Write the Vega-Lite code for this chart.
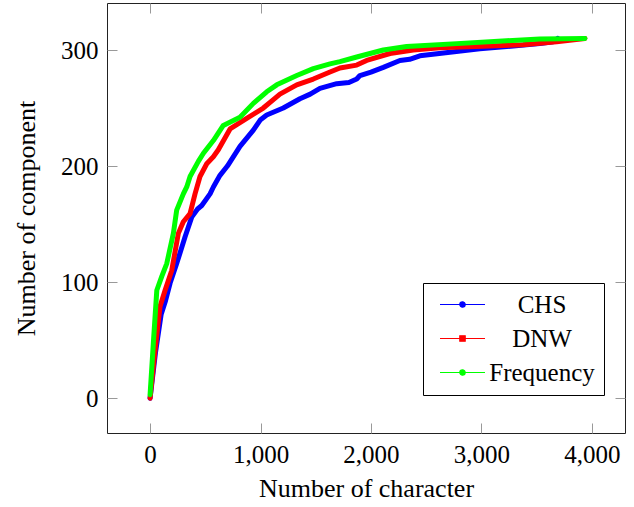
{
  "$schema": "https://vega.github.io/schema/vega-lite/v6.json",
  "width": 518,
  "height": 430,
  "autosize": {"type": "none"},
  "padding": {"left": 107, "top": 3, "right": 9, "bottom": 74},
  "background": "white",
  "config": {
    "view": {"stroke": "#222", "strokeWidth": 1},
    "font": "Liberation Serif, Times New Roman, serif",
    "axis": {
      "domain": false,
      "grid": false,
      "tickColor": "#999",
      "tickSize": -10,
      "tickWidth": 1,
      "labelFont": "Liberation Serif, Times New Roman, serif",
      "labelFontSize": 25,
      "labelColor": "black",
      "labelPadding": 19,
      "labelFlush": false,
      "labelOverlap": false,
      "titleFont": "Liberation Serif, Times New Roman, serif",
      "titleFontSize": 26,
      "titleFontWeight": "normal",
      "titleColor": "black"
    }
  },
  "data": {
    "values": [
      {"series": "CHS", "chars": 0, "components": 0},
      {"series": "CHS", "chars": 50, "components": 40},
      {"series": "CHS", "chars": 100, "components": 72},
      {"series": "CHS", "chars": 140, "components": 84},
      {"series": "CHS", "chars": 181, "components": 99},
      {"series": "CHS", "chars": 241, "components": 116},
      {"series": "CHS", "chars": 317, "components": 139},
      {"series": "CHS", "chars": 377, "components": 156},
      {"series": "CHS", "chars": 430, "components": 163},
      {"series": "CHS", "chars": 468, "components": 166},
      {"series": "CHS", "chars": 543, "components": 176},
      {"series": "CHS", "chars": 573, "components": 182},
      {"series": "CHS", "chars": 633, "components": 192},
      {"series": "CHS", "chars": 700, "components": 200},
      {"series": "CHS", "chars": 814, "components": 217},
      {"series": "CHS", "chars": 935, "components": 231},
      {"series": "CHS", "chars": 1000, "components": 240},
      {"series": "CHS", "chars": 1056, "components": 244},
      {"series": "CHS", "chars": 1206, "components": 250},
      {"series": "CHS", "chars": 1357, "components": 258},
      {"series": "CHS", "chars": 1450, "components": 262},
      {"series": "CHS", "chars": 1538, "components": 267},
      {"series": "CHS", "chars": 1690, "components": 271},
      {"series": "CHS", "chars": 1800, "components": 272},
      {"series": "CHS", "chars": 1871, "components": 275},
      {"series": "CHS", "chars": 1900, "components": 278},
      {"series": "CHS", "chars": 2000, "components": 281},
      {"series": "CHS", "chars": 2112, "components": 285},
      {"series": "CHS", "chars": 2262, "components": 291},
      {"series": "CHS", "chars": 2350, "components": 292},
      {"series": "CHS", "chars": 2443, "components": 295},
      {"series": "CHS", "chars": 2715, "components": 298},
      {"series": "CHS", "chars": 2986, "components": 301},
      {"series": "CHS", "chars": 3288, "components": 303.5},
      {"series": "CHS", "chars": 3529, "components": 305.5},
      {"series": "CHS", "chars": 3650, "components": 307},
      {"series": "CHS", "chars": 3690, "components": 310},
      {"series": "DNW", "chars": 0, "components": 0},
      {"series": "DNW", "chars": 45, "components": 41},
      {"series": "DNW", "chars": 90, "components": 79},
      {"series": "DNW", "chars": 136, "components": 93},
      {"series": "DNW", "chars": 196, "components": 110},
      {"series": "DNW", "chars": 256, "components": 142},
      {"series": "DNW", "chars": 301, "components": 152},
      {"series": "DNW", "chars": 362, "components": 159},
      {"series": "DNW", "chars": 407, "components": 176},
      {"series": "DNW", "chars": 452, "components": 191},
      {"series": "DNW", "chars": 513, "components": 202},
      {"series": "DNW", "chars": 573, "components": 208},
      {"series": "DNW", "chars": 618, "components": 214},
      {"series": "DNW", "chars": 724, "components": 232},
      {"series": "DNW", "chars": 875, "components": 241},
      {"series": "DNW", "chars": 1025, "components": 250},
      {"series": "DNW", "chars": 1100, "components": 256},
      {"series": "DNW", "chars": 1176, "components": 262},
      {"series": "DNW", "chars": 1328, "components": 270},
      {"series": "DNW", "chars": 1478, "components": 275},
      {"series": "DNW", "chars": 1629, "components": 281},
      {"series": "DNW", "chars": 1719, "components": 284.5},
      {"series": "DNW", "chars": 1871, "components": 287},
      {"series": "DNW", "chars": 1961, "components": 291},
      {"series": "DNW", "chars": 2172, "components": 297},
      {"series": "DNW", "chars": 2383, "components": 300},
      {"series": "DNW", "chars": 2624, "components": 302},
      {"series": "DNW", "chars": 3077, "components": 303.5},
      {"series": "DNW", "chars": 3378, "components": 304.6},
      {"series": "DNW", "chars": 3680, "components": 307},
      {"series": "DNW", "chars": 3937, "components": 310},
      {"series": "Frequency", "chars": 0, "components": 3},
      {"series": "Frequency", "chars": 30, "components": 48},
      {"series": "Frequency", "chars": 61, "components": 93},
      {"series": "Frequency", "chars": 106, "components": 105},
      {"series": "Frequency", "chars": 151, "components": 116},
      {"series": "Frequency", "chars": 211, "components": 142},
      {"series": "Frequency", "chars": 241, "components": 162},
      {"series": "Frequency", "chars": 301, "components": 176},
      {"series": "Frequency", "chars": 332, "components": 182},
      {"series": "Frequency", "chars": 362, "components": 191},
      {"series": "Frequency", "chars": 437, "components": 204},
      {"series": "Frequency", "chars": 483, "components": 211},
      {"series": "Frequency", "chars": 573, "components": 222},
      {"series": "Frequency", "chars": 663, "components": 235},
      {"series": "Frequency", "chars": 814, "components": 242},
      {"series": "Frequency", "chars": 935, "components": 254},
      {"series": "Frequency", "chars": 1056, "components": 264},
      {"series": "Frequency", "chars": 1147, "components": 270},
      {"series": "Frequency", "chars": 1328, "components": 278},
      {"series": "Frequency", "chars": 1478, "components": 284},
      {"series": "Frequency", "chars": 1629, "components": 288},
      {"series": "Frequency", "chars": 1719, "components": 290},
      {"series": "Frequency", "chars": 1871, "components": 294},
      {"series": "Frequency", "chars": 2112, "components": 300},
      {"series": "Frequency", "chars": 2323, "components": 303},
      {"series": "Frequency", "chars": 2776, "components": 305.5},
      {"series": "Frequency", "chars": 3228, "components": 308},
      {"series": "Frequency", "chars": 3529, "components": 309.5},
      {"series": "Frequency", "chars": 3937, "components": 310}
    ]
  },
  "layer": [
    {
      "mark": {"type": "line", "strokeWidth": 5, "strokeJoin": "round", "strokeCap": "round"},
      "encoding": {
        "x": {
          "field": "chars", "type": "quantitative",
          "scale": {"domain": [-390, 4300], "nice": false, "zero": false},
          "axis": {"orient": "bottom", "values": [0, 1000, 2000, 3000, 4000], "format": ",d", "title": "Number of character", "titlePadding": 8}
        },
        "y": {
          "field": "components", "type": "quantitative",
          "scale": {"domain": [-30, 340.5], "nice": false, "zero": false},
          "axis": {"orient": "left", "values": [0, 100, 200, 300], "format": "d", "title": "Number of component", "titlePadding": 21}
        },
        "color": {
          "field": "series", "type": "nominal",
          "scale": {"domain": ["CHS", "DNW", "Frequency"], "range": ["#0000ff", "#ff0000", "#00ff00"]},
          "legend": {
            "orient": "none",
            "legendX": 316,
            "legendY": 280,
            "title": null,
            "strokeColor": "black",
            "fillColor": "white",
            "padding": 9,
            "labelFont": "Liberation Serif, Times New Roman, serif",
            "labelFontSize": 25,
            "labelColor": "black",
            "labelAlign": "center",
            "labelOffset": 85,
            "symbolSize": 225,
            "rowPadding": 8,
            "symbolStrokeWidth": 1.2,
            "encode": {
              "symbols": {
                "update": {
                  "shape": {"signal": "datum.value === 'DNW' ? 'M-0.6,0H5.4M2.04,-0.36H2.76V0.36H2.04Z' : 'M-0.6,0H5.4M2.04,0A0.36,0.36 0 1,0 2.76,0A0.36,0.36 0 1,0 2.04,0Z'"},
                  "fill": {"scale": "color", "field": "value"},
                  "stroke": {"scale": "color", "field": "value"},
                  "strokeWidth": {"value": 1.2},
                  "opacity": {"value": 1}
                }
              }
            }
          }
        }
      }
    },
    {
      "mark": {"type": "line", "opacity": 0},
      "encoding": {
        "x": {
          "field": "chars", "type": "quantitative",
          "axis": {"orient": "top", "values": [0, 1000, 2000, 3000, 4000], "labels": false, "title": null}
        },
        "y": {
          "field": "components", "type": "quantitative",
          "axis": {"orient": "right", "values": [0, 100, 200, 300], "labels": false, "title": null}
        }
      }
    }
  ],
  "resolve": {"axis": {"x": "independent", "y": "independent"}}
}
